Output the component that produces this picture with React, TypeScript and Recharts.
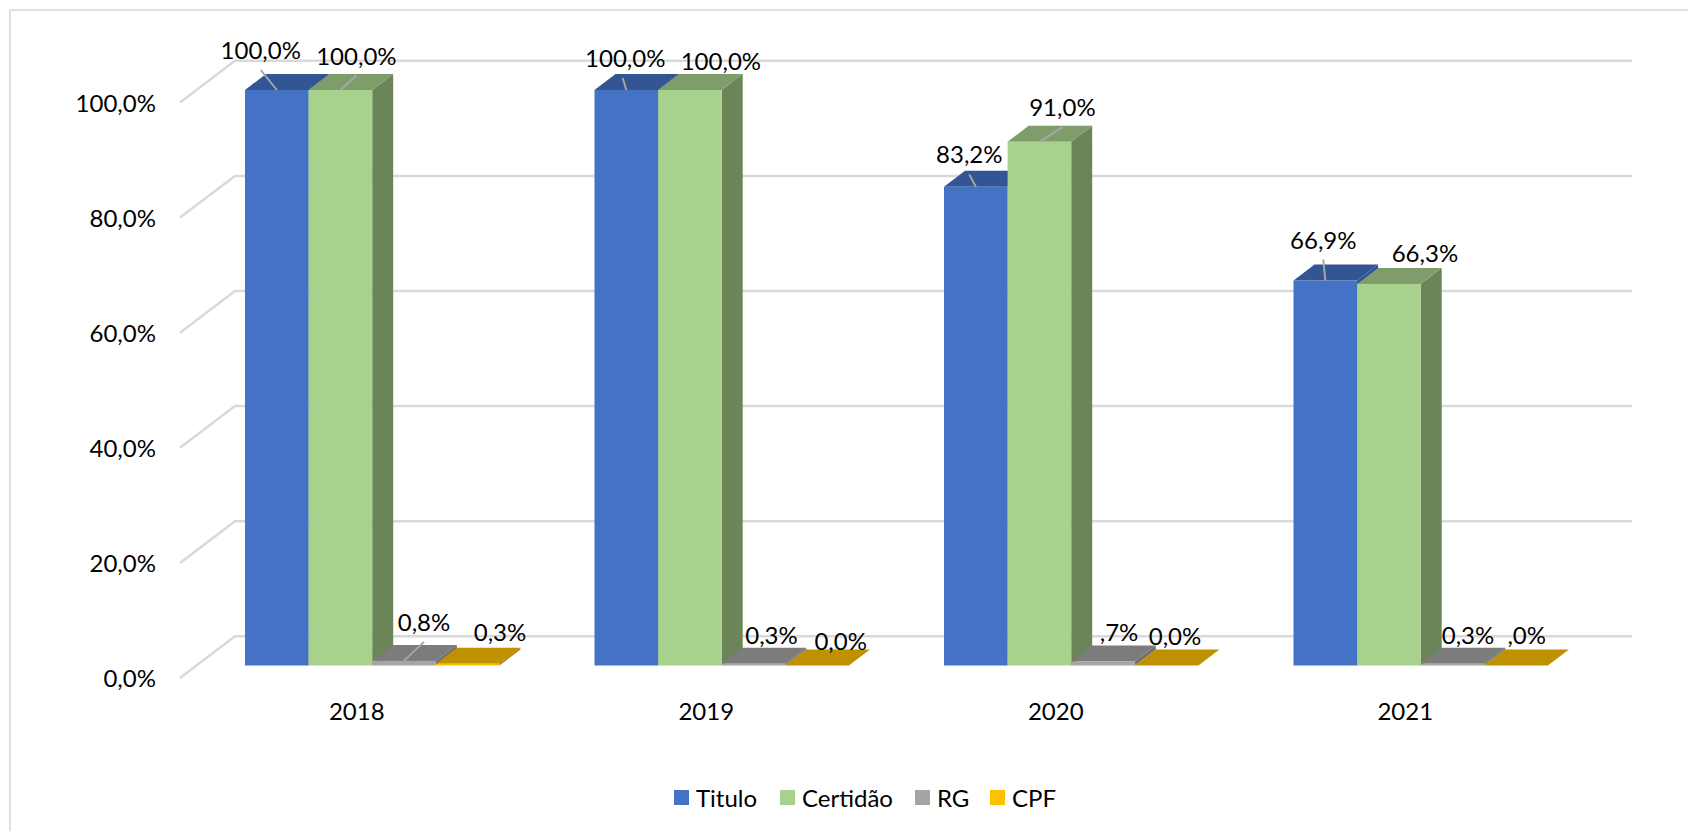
// App.tsx
import React from 'react';
import { BarChart, Bar, XAxis, YAxis, CartesianGrid, Legend, LabelList } from 'recharts';

const years = ['2018', '2019', '2020', '2021'];
const titulo = [100, 100, 83.2, 66.9];
const certidao = [100, 100, 91, 66.3];
const rg = [0.8, 0.3, 0.7, 0.3];
const cpf = [0.3, 0, 0, 0];
const yTicks = [0, 20, 40, 60, 80, 100];

const tituloLabels = ['100,0%', '100,0%', '83,2%', '66,9%'];
const certidaoLabels = ['100,0%', '100,0%', '91,0%', '66,3%'];
const rgLabels = ['0,8%', '0,3%', ',7%', '0,3%'];
const cpfLabels = ['0,3%', '0,0%', '0,0%', ',0%'];

// hand placed data labels, relative to the middle of the bar's front top edge
const tituloLabelPos = [[-16, -41], [-1, -33], [-6.5, -32.8], [-2, -41]];
const certidaoLabelPos = [[16, -35], [31, -29.3], [23, -35.5], [36, -31.1]];
const rgLabelPos = [[20, -39.5], [18, -29.3], [16, -30.3], [15.5, -29.3]];
const cpfLabelPos = [[32.4, -32.5], [23.6, -25.3], [8.4, -29.7], [10.6, -31]];

// leader line ends, same reference point
const tituloLeaders = [[-16, -20], [-3.6, -12], [-6.5, -12.3], [-2, -21]];
const certidaoLeaders = [[16, -14.5], null, [23, -14.6], null];
const rgLeaders = [[20, -19], null, null, null];
const cpfLeaders = [null, null, null, null];

const legendX = [674, 780, 915, 990];

const data = years.map((year, i) => ({
  year,
  Titulo: titulo[i],
  'Certidão': certidao[i],
  RG: rg[i],
  CPF: cpf[i],
}));

const FONT = 'Lato, Carlito, Calibri, sans-serif';
const TEXT_SIZE = 24;
const DEPTH_X = 21;
const DEPTH_Y = 16;

const makeBarShape = (front: string, top: string, side: string) => (props: any) => {
  const { x, y, width, height } = props;
  const x2 = x + width;
  const y2 = y + height;
  return (
    <g>
      <polygon
        points={`${x2},${y} ${x2 + DEPTH_X},${y - DEPTH_Y} ${x2 + DEPTH_X},${y2 - DEPTH_Y} ${x2},${y2}`}
        fill={side}
      />
      <polygon
        points={`${x},${y} ${x + DEPTH_X},${y - DEPTH_Y} ${x2 + DEPTH_X},${y - DEPTH_Y} ${x2},${y}`}
        fill={top}
      />
      <rect x={x} y={y} width={width} height={height} fill={front} />
    </g>
  );
};

const makeLabel = (texts: string[], pos: number[][], leaders: (number[] | null)[]) => (props: any) => {
  const { index } = props;
  const box = props.viewBox ?? props;
  const cx = box.x + box.width / 2;
  const leader = leaders[index];
  return (
    <g>
      {leader && (
        <line
          x1={cx}
          y1={box.y}
          x2={cx + leader[0]}
          y2={box.y + leader[1]}
          stroke="#a6a6a6"
          strokeWidth={2}
        />
      )}
      <text
        x={cx + pos[index][0]}
        y={box.y + pos[index][1]}
        textAnchor="middle"
        dominantBaseline="central"
        fontFamily={FONT}
        fontSize={TEXT_SIZE}
        fill="#000"
      >
        {texts[index]}
      </text>
    </g>
  );
};

// gridlines run over the floor edge and along the back wall
const wallLine = (props: any) => {
  const { x1, x2, y1, key } = props;
  return (
    <path
      key={key}
      d={`M${x1 - 17},${y1 + 12.5} L${x1 + 38},${y1 - 29.2} L${x2 + 37},${y1 - 29.2}`}
      fill="none"
      stroke="#d9d9d9"
      strokeWidth={2.5}
    />
  );
};

const YTick = ({ y, payload }: any) => (
  <text x={156} y={y + 12} textAnchor="end" dominantBaseline="central" fontFamily={FONT} fontSize={TEXT_SIZE} fill="#000">
    {payload.value.toFixed(1).replace('.', ',')}%
  </text>
);

const XTick = ({ x, payload }: any) => (
  <text x={x - 15} y={710} textAnchor="middle" dominantBaseline="central" fontFamily={FONT} fontSize={TEXT_SIZE} fill="#000">
    {payload.value}
  </text>
);

const LegendContent = ({ payload }: any) => (
  <div style={{ position: 'relative', height: 0 }}>
    {(payload ?? []).map((item: any, i: number) => (
      <div
        key={item.value}
        style={{
          position: 'absolute',
          left: legendX[i],
          top: 0,
          display: 'flex',
          alignItems: 'center',
          height: 30,
          whiteSpace: 'nowrap',
          fontFamily: FONT,
          fontSize: TEXT_SIZE,
          color: '#000',
        }}
      >
        <span style={{ width: 15, height: 15, background: item.color, marginRight: 7, display: 'inline-block' }} />
        {item.value}
      </div>
    ))}
  </div>
);

export default function App() {
  return (
    <div style={{ position: 'absolute', left: 0, top: 0, width: 1688, height: 831, background: '#fff', overflow: 'hidden' }}>
      <div
        style={{
          position: 'absolute',
          left: 9,
          top: 9,
          right: 0,
          bottom: 0,
          borderLeft: '2.5px solid #e0e0e0',
          borderTop: '2px solid #e0e0e0',
        }}
      />
      <BarChart
        width={1688}
        height={831}
        data={data}
        barGap={0}
        barSize={63.6}
        margin={{ top: 90, right: 93, bottom: 65.5, left: 0 }}
        style={{ position: 'absolute', left: 0, top: 0 }}
      >
        <CartesianGrid vertical={false} horizontal={wallLine} />
        <XAxis dataKey="year" height={100} axisLine={false} tickLine={false} tick={<XTick />} interval={0} />
        <YAxis width={197} domain={[0, 100]} ticks={yTicks} axisLine={false} tickLine={false} tick={<YTick />} />
        <Legend
          verticalAlign="bottom"
          itemSorter={null}
          content={<LegendContent />}
          wrapperStyle={{ left: 0, top: 782, width: 1688, height: 0 }}
        />
        <Bar dataKey="Titulo" fill="#4472c4" isAnimationActive={false} shape={makeBarShape('#4472c4', '#335593', '#2f5597')}>
          <LabelList content={makeLabel(tituloLabels, tituloLabelPos, tituloLeaders)} />
        </Bar>
        <Bar dataKey="Certidão" fill="#a9d18e" isAnimationActive={false} shape={makeBarShape('#a9d18e', '#7f9d6a', '#6b8559')}>
          <LabelList content={makeLabel(certidaoLabels, certidaoLabelPos, certidaoLeaders)} />
        </Bar>
        <Bar dataKey="RG" fill="#a5a5a5" isAnimationActive={false} shape={makeBarShape('#a5a5a5', '#7c7c7c', '#6e6e6e')}>
          <LabelList content={makeLabel(rgLabels, rgLabelPos, rgLeaders)} />
        </Bar>
        <Bar dataKey="CPF" fill="#ffc000" isAnimationActive={false} shape={makeBarShape('#ffc000', '#bf9000', '#a67c00')}>
          <LabelList content={makeLabel(cpfLabels, cpfLabelPos, cpfLeaders)} />
        </Bar>
      </BarChart>
    </div>
  );
}
